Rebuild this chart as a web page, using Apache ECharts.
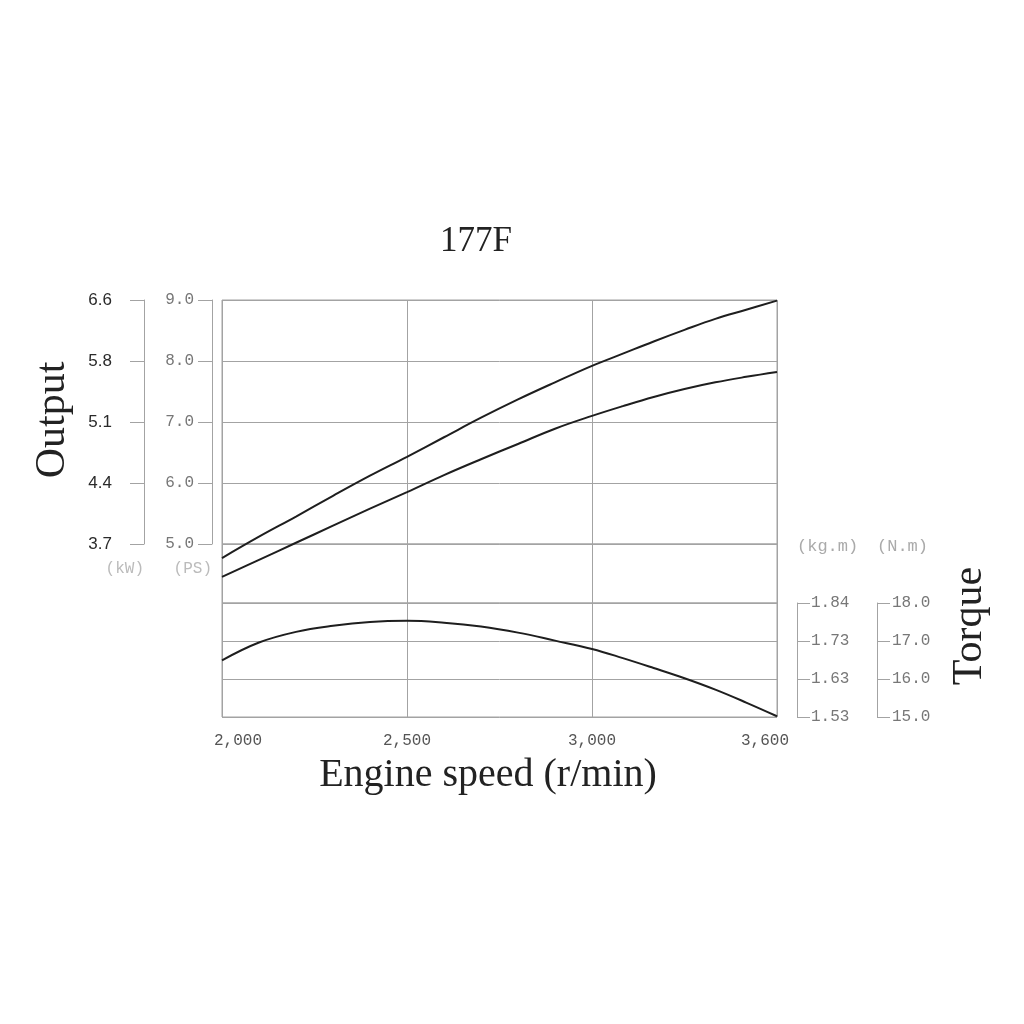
<!DOCTYPE html>
<html>
<head>
<meta charset="utf-8">
<script src="https://cdn.jsdelivr.net/npm/echarts@6/dist/echarts.min.js"></script>
<style>
  html, body { margin: 0; padding: 0; background: #fff; }
  #chart { width: 1024px; height: 1024px; }
</style>
</head>
<body>
<div id="chart"></div>
<script>
// engine speed ticks (the original sheet spaces them evenly)
const speedTicks = [2000, 2500, 3000, 3600]
const speedTickLabels = ['2,000', '2,500', '3,000', '3,600']

// output axes: PS values with matching kW labels
const psTicks = [5, 6, 7, 8, 9]
const kwLabels = ['3.7', '4.4', '5.1', '5.8', '6.6']

// torque axes: N.m values with matching kg.m labels
const nmTicks = [15, 16, 17, 18]
const kgmLabels = ['1.53', '1.63', '1.73', '1.84']

const speed = [2000, 2100, 2200, 2300, 2400, 2500, 2600, 2700, 2800, 2900, 3000, 3100, 3200, 3300, 3400, 3500, 3600]
const outputMax = [4.77, 5.12, 5.45, 5.79, 6.12, 6.43, 6.75, 7.07, 7.37, 7.65, 7.92, 8.12, 8.32, 8.51, 8.69, 8.84, 8.99]
const outputRated = [4.46, 4.74, 5.02, 5.30, 5.58, 5.85, 6.13, 6.39, 6.64, 6.89, 7.10, 7.26, 7.41, 7.54, 7.65, 7.74, 7.82]
const torque = [16.49, 16.96, 17.24, 17.40, 17.50, 17.53, 17.48, 17.38, 17.22, 17.01, 16.79, 16.55, 16.29, 16.02, 15.72, 15.38, 15.02]

// map rpm onto the evenly spaced tick positions
function speedToAxis(rpm) {
  for (let i = 0; i < speedTicks.length - 1; i++) {
    if (rpm <= speedTicks[i + 1]) {
      return i + (rpm - speedTicks[i]) / (speedTicks[i + 1] - speedTicks[i])
    }
  }
  return speedTicks.length - 1
}

function pairs(values) {
  return speed.map((s, i) => [speedToAxis(s), values[i]])
}

const gridColor = '#a3a3a3'
const monoFont = '"Liberation Mono", "DejaVu Sans Mono", monospace'
const serifFont = '"Liberation Serif", "DejaVu Serif", serif'

const myChart = echarts.init(document.getElementById('chart'))

const baseGrid = {
  left: 222,
  right: 247,
  show: true,
  borderColor: gridColor,
  borderWidth: 1,
  backgroundColor: 'transparent'
}

function speedAxis(gridIndex, showLabels) {
  return {
    type: 'value',
    gridIndex,
    min: 0,
    max: speedTicks.length - 1,
    interval: 1,
    axisLine: { show: false, onZero: false },
    axisTick: { show: false },
    splitLine: { show: true, lineStyle: { color: gridColor, width: 1 } },
    axisLabel: {
      show: showLabels,
      margin: 16,
      color: '#555',
      fontFamily: monoFont,
      fontSize: 16,
      formatter: (v) => {
        const text = speedTickLabels[v] || ''
        // the end labels sit a little inside the frame on the sheet
        if (v === 0) return '{first|' + text + '}'
        if (v === speedTicks.length - 1) return '{last|' + text + '}'
        return text
      },
      rich: {
        first: { color: '#555', fontFamily: monoFont, fontSize: 16, padding: [0, 0, 0, 32] },
        last: { color: '#555', fontFamily: monoFont, fontSize: 16, padding: [0, 24, 0, 0] }
      }
    }
  }
}

const lineSeries = (name, data, xIndex, yIndex) => ({
  name,
  type: 'line',
  xAxisIndex: xIndex,
  yAxisIndex: yIndex,
  data,
  smooth: 0.4,
  symbol: 'none',
  showSymbol: false,
  clip: false,
  animation: false,
  lineStyle: { color: '#1e1e1e', width: 2 }
})

const valueAxis = (extra) => Object.assign({
  type: 'value',
  interval: 1,
  axisLine: { show: true, onZero: false, lineStyle: { color: gridColor } },
  axisTick: { show: true, length: 14, lineStyle: { color: gridColor } },
  splitLine: { show: false }
}, extra)

const option = {
  backgroundColor: '#fff',
  grid: [
    { ...baseGrid, top: 300, height: 244 },
    { ...baseGrid, top: 544, height: 59 },
    { ...baseGrid, top: 603, height: 114 }
  ],
  xAxis: [
    speedAxis(0, false),
    speedAxis(1, false),
    speedAxis(2, true)
  ],
  yAxis: [
    valueAxis({
      // PS
      gridIndex: 0,
      position: 'left',
      offset: 10,
      min: psTicks[0],
      max: psTicks[psTicks.length - 1],
      name: '(PS)',
      nameLocation: 'start',
      nameGap: 17,
      nameTextStyle: { color: '#bbb', fontFamily: monoFont, fontSize: 16, align: 'right', verticalAlign: 'top' },
      splitLine: { show: true, lineStyle: { color: gridColor, width: 1 } },
      axisLabel: {
        margin: 18,
        color: '#777',
        fontFamily: monoFont,
        fontSize: 16,
        formatter: (v) => v.toFixed(1)
      }
    }),
    valueAxis({
      // kW
      gridIndex: 0,
      position: 'left',
      offset: 78,
      min: psTicks[0],
      max: psTicks[psTicks.length - 1],
      name: '(kW)',
      nameLocation: 'start',
      nameGap: 17,
      nameTextStyle: { color: '#bbb', fontFamily: monoFont, fontSize: 16, align: 'right', verticalAlign: 'top' },
      axisLabel: {
        margin: 32,
        color: '#2a2a2a',
        fontFamily: '"Liberation Sans", Arial, sans-serif',
        fontSize: 17,
        formatter: (v) => kwLabels[psTicks.indexOf(v)] || ''
      }
    }),
    {
      // spacer band between output and torque
      type: 'value',
      gridIndex: 1,
      min: 0,
      max: 1,
      show: false,
      axisLine: { onZero: false },
      splitLine: { show: false }
    },
    valueAxis({
      // N.m
      gridIndex: 2,
      position: 'right',
      offset: 100,
      min: nmTicks[0],
      max: nmTicks[nmTicks.length - 1],
      name: '(N.m)',
      nameLocation: 'end',
      nameGap: 48,
      nameTextStyle: { color: '#aaa', fontFamily: monoFont, fontSize: 17, align: 'left', verticalAlign: 'bottom' },
      axisTick: { show: true, length: 13, lineStyle: { color: gridColor } },
      splitLine: { show: true, lineStyle: { color: gridColor, width: 1 } },
      axisLabel: {
        margin: 15,
        color: '#777',
        fontFamily: monoFont,
        fontSize: 16,
        formatter: (v) => v.toFixed(1)
      }
    }),
    valueAxis({
      // kg.m
      gridIndex: 2,
      position: 'right',
      offset: 20,
      min: nmTicks[0],
      max: nmTicks[nmTicks.length - 1],
      name: '(kg.m)',
      nameLocation: 'end',
      nameGap: 48,
      nameTextStyle: { color: '#aaa', fontFamily: monoFont, fontSize: 17, align: 'left', verticalAlign: 'bottom' },
      axisTick: { show: true, length: 13, lineStyle: { color: gridColor } },
      axisLabel: {
        margin: 14,
        color: '#777',
        fontFamily: monoFont,
        fontSize: 16,
        formatter: (v) => kgmLabels[nmTicks.indexOf(v)] || ''
      }
    })
  ],
  graphic: [
    {
      type: 'text',
      x: 476,
      y: 242,
      style: { text: '177F', font: '35px ' + serifFont, fill: '#222', align: 'center', verticalAlign: 'middle' }
    },
    {
      type: 'text',
      x: 488,
      y: 775,
      style: { text: 'Engine speed (r/min)', font: '40px ' + serifFont, fill: '#222', align: 'center', verticalAlign: 'middle' }
    },
    {
      type: 'text',
      x: 53,
      y: 420,
      rotation: Math.PI / 2,
      style: { text: 'Output', font: '42px ' + serifFont, fill: '#222', align: 'center', verticalAlign: 'middle' }
    },
    {
      type: 'text',
      x: 970,
      y: 626,
      rotation: Math.PI / 2,
      style: { text: 'Torque', font: '42px ' + serifFont, fill: '#222', align: 'center', verticalAlign: 'middle' }
    }
  ],
  series: [
    lineSeries('Max output', pairs(outputMax), 0, 0),
    lineSeries('Rated output', pairs(outputRated), 0, 0),
    lineSeries('Torque', pairs(torque), 2, 3)
  ]
}

myChart.setOption(option)
</script>
</body>
</html>
